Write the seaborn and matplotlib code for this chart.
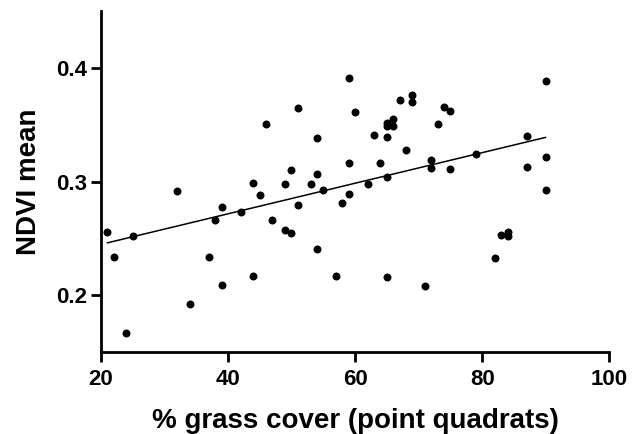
import numpy as np
import pandas as pd
import seaborn as sns
import matplotlib
matplotlib.use("Agg")
import matplotlib.pyplot as plt

# % grass cover (point quadrats) vs NDVI mean
grass_cover = [
    21, 22, 24, 25, 32, 34, 37, 38, 39, 39,
    42, 44, 44, 45, 46, 47, 49, 49, 50, 50,
    51, 51, 53, 54, 54, 54, 55, 57, 58, 59,
    59, 59, 60, 62, 63, 64, 65, 65, 65, 65,
    65, 66, 66, 67, 68, 69, 69, 71, 72, 72,
    73, 74, 75, 75, 79, 82, 83, 84, 84, 87,
    87, 90, 90, 90,
]
ndvi_mean = [
    0.256, 0.234, 0.167, 0.252, 0.292, 0.192, 0.234, 0.266, 0.278, 0.209,
    0.273, 0.299, 0.217, 0.288, 0.351, 0.266, 0.298, 0.257, 0.310, 0.255,
    0.365, 0.279, 0.298, 0.338, 0.307, 0.241, 0.293, 0.217, 0.281, 0.391,
    0.316, 0.289, 0.361, 0.298, 0.341, 0.316, 0.352, 0.349, 0.339, 0.304,
    0.216, 0.349, 0.355, 0.372, 0.328, 0.376, 0.370, 0.208, 0.319, 0.312,
    0.351, 0.366, 0.362, 0.311, 0.324, 0.233, 0.253, 0.256, 0.252, 0.340,
    0.313, 0.389, 0.322, 0.293,
]

df = pd.DataFrame({"cover": grass_cover, "ndvi": ndvi_mean})

sns.set_style("ticks")
plt.rcParams["font.family"] = ["Liberation Sans", "DejaVu Sans"]
plt.rcParams["font.weight"] = "bold"
plt.rcParams["text.color"] = "black"
plt.rcParams["axes.labelcolor"] = "black"
plt.rcParams["xtick.color"] = "black"
plt.rcParams["ytick.color"] = "black"

fig = plt.figure(figsize=(6.38, 4.34), dpi=100)
ax = fig.add_axes([0.158, 0.189, 0.797, 0.785])

sns.regplot(data=df, x="cover", y="ndvi", ax=ax, ci=None, truncate=True,
            scatter_kws={"s": 33, "color": "black", "linewidths": 0, "alpha": 1},
            line_kws={"color": "black", "linewidth": 1.1})

ax.set_xlim(20, 100)
ax.set_ylim(0.15, 0.45)
ax.set_xticks([20, 40, 60, 80, 100])
ax.set_yticks([0.2, 0.3, 0.4])
ax.set_yticklabels(["0.2", "0.3", "0.4"])

ax.set_xlabel("% grass cover (point quadrats)", fontsize=20, fontweight="bold", labelpad=13)
ax.set_ylabel("NDVI mean", fontsize=20, fontweight="bold", labelpad=10)

for side in ["top", "right"]:
    ax.spines[side].set_visible(False)
for side in ["left", "bottom"]:
    ax.spines[side].set_linewidth(2)
    ax.spines[side].set_color("black")

ax.tick_params(axis="both", labelsize=16, width=2, length=7, color="black")
ax.tick_params(axis="y", pad=3)
ax.tick_params(axis="x", pad=5)
for lbl in ax.get_xticklabels() + ax.get_yticklabels():
    lbl.set_fontweight("bold")

fig.savefig("out.png", dpi=100)
